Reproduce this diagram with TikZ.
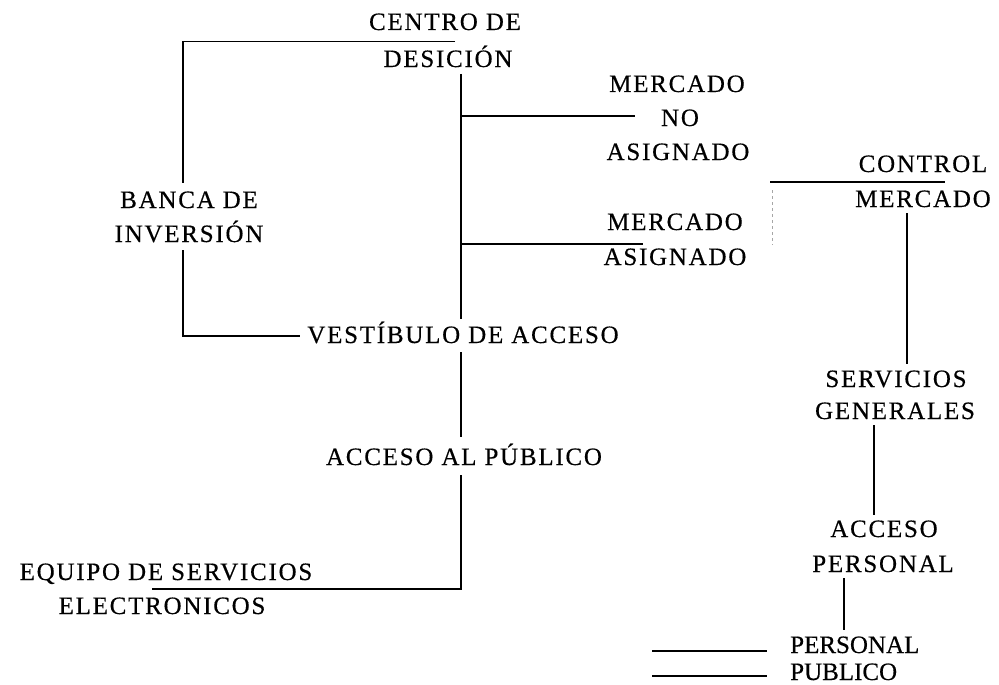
\documentclass[tikz,border=0pt]{standalone}
\usepackage{fontspec}
\newfontfamily\lblfont{Liberation Serif}[LetterSpace=7,FakeBold=0.4]
\newfontfamily\legfont{Liberation Serif}[FakeBold=0.4]
\begin{document}
\begin{tikzpicture}[x=1pt,y=-1pt,
  lbl/.style={font=\lblfont\fontsize{25}{25}\selectfont, anchor=base, inner sep=0pt},
  leg/.style={font=\legfont\fontsize{25}{25}\selectfont, anchor=base west, inner sep=0pt},
  conn/.style={line width=1.4pt, black},
  faint/.style={line width=0.8pt, black!35, dash pattern=on 3pt off 3pt}]
\useasboundingbox[fill=white] (0,0) rectangle (999,685);
% labels
\node[lbl] (centro) at (445,30) {CENTRO DE};
\node[lbl] (desicion) at (448,67) {DESICIÓN};
\node[lbl] (banca) at (189,208) {BANCA DE};
\node[lbl] (inversion) at (189,242) {INVERSIÓN};
\node[lbl] (vestibulo) at (463,343) {VESTÍBULO DE ACCESO};
\node[lbl] (publico) at (464,465) {ACCESO AL PÚBLICO};
\node[lbl] (mercA) at (677,92) {MERCADO};
\node[lbl] (no) at (680,126) {NO};
\node[lbl] (asigA) at (678,160) {ASIGNADO};
\node[lbl] (mercB) at (675,230) {MERCADO};
\node[lbl] (asigB) at (675,265) {ASIGNADO};
\node[lbl] (control) at (923,172) {CONTROL};
\node[lbl] (mercC) at (923,207) {MERCADO};
\node[lbl] (serv) at (896,387) {SERVICIOS};
\node[lbl] (gen) at (895,419) {GENERALES};
\node[lbl] (acceso) at (884,537) {ACCESO};
\node[lbl] (personal) at (883,572) {PERSONAL};
\node[lbl] (equipo) at (166,580) {EQUIPO DE SERVICIOS};
\node[lbl] (electro) at (162,614) {ELECTRONICOS};
\node[leg] (legP) at (790,653) {PERSONAL};
\node[leg] (legQ) at (790,680) {PUBLICO};
% connector points
\coordinate (a1) at (455,41.5);
\coordinate (a2) at (183,41.5);
\coordinate (a3) at (183,183);
\coordinate (b1) at (183,250);
\coordinate (b2) at (183,336);
\coordinate (b3) at (300,336);
\coordinate (m1) at (461,74);
\coordinate (m2) at (461,319);
\coordinate (br1) at (461,116);
\coordinate (br1e) at (635,116);
\coordinate (br2) at (461,244);
\coordinate (br2e) at (643,244);
\coordinate (m3) at (461,352);
\coordinate (m4) at (461,437);
\coordinate (m5) at (461,475);
\coordinate (m6) at (461,589);
\coordinate (m7) at (152,589);
\coordinate (c1) at (770,182);
\coordinate (c2) at (945,182);
\coordinate (r1) at (907,213);
\coordinate (r2) at (907,364);
\coordinate (s1) at (874,425);
\coordinate (s2) at (874,515);
\coordinate (p1) at (844,578);
\coordinate (p2) at (844,630);
\coordinate (l1a) at (652,651);
\coordinate (l1b) at (767,651);
\coordinate (l2a) at (652,676);
\coordinate (l2b) at (767,676);
\coordinate (f1) at (772,190);
\coordinate (f2) at (772,245);
% connectors
\draw[conn] (a1) -- (a2) -- (a3);
\draw[conn] (b1) -- (b2) -- (b3);
\draw[conn] (m1) -- (m2);
\draw[conn] (br1) -- (br1e);
\draw[conn] (br2) -- (br2e);
\draw[conn] (m3) -- (m4);
\draw[conn] (m5) -- (m6) -- (m7);
\draw[conn] (c1) -- (c2);
\draw[conn] (r1) -- (r2);
\draw[conn] (s1) -- (s2);
\draw[conn] (p1) -- (p2);
\draw[conn] (l1a) -- (l1b);
\draw[conn] (l2a) -- (l2b);
\draw[faint] (f1) -- (f2);
\end{tikzpicture}
\end{document}
